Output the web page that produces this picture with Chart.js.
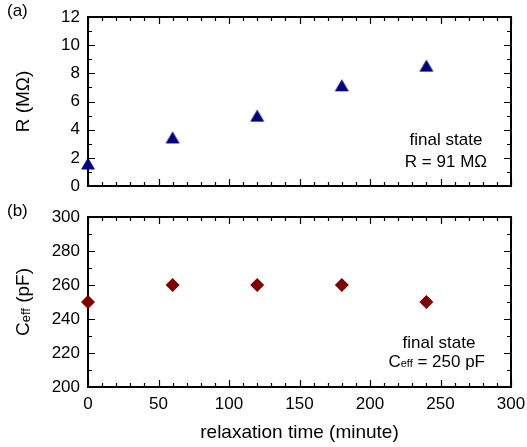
<!DOCTYPE html>
<html>
<head>
<meta charset="utf-8">
<script src="https://cdn.jsdelivr.net/npm/chart.js@4/dist/chart.umd.min.js"></script>
<style>
  html, body { margin: 0; padding: 0; background: #fff; }
  #wrap { position: relative; width: 527px; height: 447px; }
  .panel { position: absolute; left: 0; width: 527px; }
  #pa { top: 0; height: 200px; }
  #pb { top: 200px; height: 248px; }
</style>
</head>
<body>
<div id="wrap">
  <div class="panel" id="pa"><canvas id="ca"></canvas></div>
  <div class="panel" id="pb"><canvas id="cb"></canvas></div>
</div>
<script>
// ---- data ----
const relaxationTime = [0, 60, 120, 180, 240];           // minutes
const resistance = [1.6, 3.45, 5.0, 7.15, 8.55];          // MΩ
const capacitance = [250, 260, 260, 260, 250];            // pF
const xTickStep = 50, xMinorStep = 10, xMin = 0, xMax = 300;
const rTickStep = 2, rMinorStep = 1, rMin = 0, rMax = 12;
const cTickStep = 20, cMinorStep = 10, cMin = 200, cMax = 300;
const panelLabels = ['(a)', '(b)'];
const noteA = ['final state', 'R = 91 MΩ'];
const noteB = ['final state', '250 pF'];

const FONT = '"Liberation Sans", Arial, sans-serif';
Chart.defaults.font.family = FONT;
Chart.defaults.color = '#000';

// triangle marker centred on its bounding box (image point style)
function triangleMarker(color) {
  const c = document.createElement('canvas');
  c.width = 16; c.height = 14;
  const g = c.getContext('2d');
  g.fillStyle = color;
  g.beginPath();
  g.moveTo(8, 1); g.lineTo(15, 13); g.lineTo(1, 13);
  g.closePath(); g.fill();
  return c;
}

function frameTicks(chart, xMinor, yMinor, xMajor, yMajor) {
  const {ctx, chartArea: a, scales} = chart;
  const xs = scales.x, ys = scales.y;
  ctx.save();
  ctx.strokeStyle = '#000';
  ctx.lineWidth = 1.2;
  ctx.beginPath();
  for (let v = xs.min; v <= xs.max + 1e-9; v += xMinor) {
    const px = Math.round(xs.getPixelForValue(v)) + 0.5;
    const major = Math.abs(v / xMajor - Math.round(v / xMajor)) < 1e-6;
    const len = major ? 7 : 4;
    ctx.moveTo(px, a.bottom); ctx.lineTo(px, a.bottom - len);
    ctx.moveTo(px, a.top); ctx.lineTo(px, a.top + len);
  }
  for (let v = ys.min; v <= ys.max + 1e-9; v += yMinor) {
    const py = Math.round(ys.getPixelForValue(v)) + 0.5;
    const major = Math.abs((v - ys.min) / yMajor - Math.round((v - ys.min) / yMajor)) < 1e-6;
    const len = major ? 7 : 4;
    ctx.moveTo(a.left, py); ctx.lineTo(a.left + len, py);
    ctx.moveTo(a.right, py); ctx.lineTo(a.right - len, py);
  }
  ctx.stroke();
  ctx.lineWidth = 2;
  ctx.strokeRect(a.left, a.top, a.right - a.left, a.bottom - a.top);
  ctx.restore();
}

function drawYTitle(chart, parts) {
  const {ctx, chartArea: a} = chart;
  ctx.save();
  const cy = (a.top + a.bottom) / 2;
  ctx.translate(24, cy);
  ctx.rotate(-Math.PI / 2);
  ctx.fillStyle = '#000';
  ctx.textBaseline = 'middle';
  let total = 0;
  parts.forEach(p => { ctx.font = p[1] + 'px ' + FONT; total += ctx.measureText(p[0]).width; });
  let x = -total / 2;
  parts.forEach(p => {
    ctx.font = p[1] + 'px ' + FONT;
    ctx.textAlign = 'left';
    ctx.fillText(p[0], x, p[2]);
    x += ctx.measureText(p[0]).width;
  });
  ctx.restore();
}

function drawText(ctx, text, x, y, size, align) {
  ctx.font = size + 'px ' + FONT;
  ctx.textAlign = align || 'left';
  ctx.textBaseline = 'middle';
  ctx.fillStyle = '#000';
  ctx.fillText(text, x, y);
}

const common = (yMin, yMax, yStep, showX) => ({
  responsive: true,
  maintainAspectRatio: false,
  animation: false,
  events: [],
  plugins: { legend: { display: false }, tooltip: { enabled: false } },
  scales: {
    x: {
      type: 'linear', min: xMin, max: xMax, display: showX,
      grid: { display: false, drawTicks: false }, border: { display: false },
      ticks: { stepSize: xTickStep, font: { size: 17 }, padding: 7, maxRotation: 0, autoSkip: false },
      title: { display: showX, text: 'relaxation time (minute)', font: { size: 19 }, padding: { top: 0, bottom: 4 } },
      afterFit: s => { s.height = showX ? 61 : 0; s.paddingLeft = 0; s.paddingRight = 0; }
    },
    y: {
      type: 'linear', min: yMin, max: yMax,
      grid: { display: false, drawTicks: false }, border: { display: false },
      ticks: { stepSize: yStep, font: { size: 17 }, padding: 8, autoSkip: false },
      afterFit: s => { s.width = 88; s.paddingTop = 0; s.paddingBottom = 0; }
    }
  }
});

const optA = common(rMin, rMax, rTickStep, false);
optA.layout = { padding: { top: 17, right: 16, bottom: 14, left: 0 } };
new Chart(document.getElementById('ca'), {
  type: 'scatter',
  data: { datasets: [{
    data: relaxationTime.map((t, i) => ({ x: t, y: resistance[i] })),
    pointStyle: triangleMarker('#000080'), pointRadius: 8, borderWidth: 0,
    backgroundColor: '#000080', borderColor: '#000080', clip: false
  }]},
  options: optA,
  plugins: [{
    id: 'decoA',
    beforeDatasetsDraw(chart) {
      frameTicks(chart, xMinorStep, rMinorStep, xTickStep, rTickStep);
      drawYTitle(chart, [['R (MΩ)', 19, 0]]);
      const ctx = chart.ctx;
      drawText(ctx, panelLabels[0], 7, 11, 17, 'left');
      drawText(ctx, noteA[0], 446, 140, 17, 'center');
      drawText(ctx, noteA[1], 487, 162, 17, 'right');
    }
  }]
});

const optB = common(cMin, cMax, cTickStep, true);
optB.layout = { padding: { top: 17, right: 16, bottom: 0, left: 0 } };
new Chart(document.getElementById('cb'), {
  type: 'scatter',
  data: { datasets: [{
    data: relaxationTime.map((t, i) => ({ x: t, y: capacitance[i] })),
    pointStyle: 'rectRot', pointRadius: 7, borderWidth: 0,
    backgroundColor: '#800000', borderColor: '#800000', clip: false
  }]},
  options: optB,
  plugins: [{
    id: 'decoB',
    beforeDatasetsDraw(chart) {
      frameTicks(chart, xMinorStep, cMinorStep, xTickStep, cTickStep);
      drawYTitle(chart, [['C', 19, 0], ['eff', 13, 2], [' (pF)', 19, 0]]);
      const ctx = chart.ctx;
      drawText(ctx, panelLabels[1], 7, 11, 17, 'left');
      drawText(ctx, noteB[0], 439, 143, 17, 'center');
      ctx.save();
      ctx.font = '17px ' + FONT;
      const w1 = ctx.measureText('C').width;
      const w3 = ctx.measureText(' = ' + noteB[1]).width;
      ctx.font = '11px ' + FONT;
      const w2 = ctx.measureText('eff').width;
      let x = 485 - (w1 + w2 + w3);
      drawText(ctx, 'C', x, 162, 17, 'left'); x += w1;
      drawText(ctx, 'eff', x, 164, 11, 'left'); x += w2;
      drawText(ctx, ' = ' + noteB[1], x, 162, 17, 'left');
      ctx.restore();
    }
  }]
});
</script>
</body>
</html>
